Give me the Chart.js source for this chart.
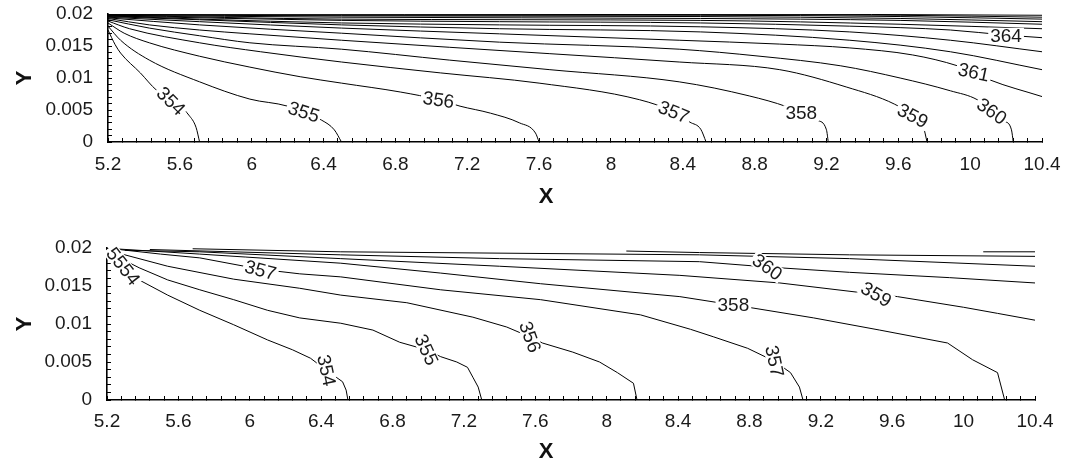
<!DOCTYPE html>
<html>
<head>
<meta charset="utf-8">
<script src="https://cdn.jsdelivr.net/npm/chart.js@4.4.0/dist/chart.umd.min.js"></script>
<style>
  html, body { margin: 0; padding: 0; background: #fff; }
  #wrap { position: relative; width: 1066px; height: 465px; }
  canvas { position: absolute; left: 0; }
</style>
</head>
<body>
<div id="wrap">
  <canvas id="topChart" width="1066" height="230" style="top:0"></canvas>
  <canvas id="bottomChart" width="1066" height="235" style="top:230px"></canvas>
</div>
<script>
// axis ticks (labelled ones), minor ticks are 5 per interval
var xTicks = [5.2, 5.6, 6, 6.4, 6.8, 7.2, 7.6, 8, 8.4, 8.8, 9.2, 9.6, 10, 10.4];
var yTicks = [0, 0.005, 0.01, 0.015, 0.02];

// top panel contour lines, [x, y]
var topLevels = [354, 355, 356, 357, 358, 359, 360, 361, 362, 363, 364, 365, 366, 367, 368, 369, 370];
var t354 = [[5.2,0.0175],[5.24,0.0152],[5.27,0.0139],[5.38,0.0108],[5.47,0.0081],[5.56,0.0066],[5.65,0.0042],[5.69,0.0023],[5.71,0]];
var t355 = [[5.2,0.0181],[5.27,0.0159],[5.43,0.0128],[5.71,0.0094],[5.99,0.0067],[6.2,0.0056],[6.39,0.0034],[6.46,0.0019],[6.5,0]];
var t356 = [[5.2,0.0186],[5.29,0.017],[5.43,0.0155],[5.71,0.0134],[5.99,0.0117],[6.27,0.0102],[6.5,0.0092],[6.83,0.0078],[7.04,0.0066],[7.16,0.0056],[7.33,0.0045],[7.49,0.003],[7.58,0.0014],[7.6,0]];
var t357 = [[5.2,0.0189],[5.32,0.0177],[5.71,0.0155],[6.05,0.0141],[6.5,0.0125],[7.05,0.0108],[7.6,0.0092],[8.16,0.0066],[8.35,0.0047],[8.44,0.0031],[8.5,0.002],[8.53,0]];
var t358 = [[5.2,0.0191],[5.43,0.0178],[5.71,0.0166],[5.99,0.0155],[6.5,0.0145],[7.1,0.0128],[7.66,0.0113],[8.38,0.0094],[8.77,0.0072],[8.98,0.0055],[9.06,0.0045],[9.15,0.0034],[9.2,0.0019],[9.21,0]];
var t359 = [[5.2,0.0193],[5.43,0.0183],[5.71,0.0175],[5.99,0.0169],[6.5,0.0159],[7.1,0.0148],[7.66,0.0138],[8.38,0.0125],[8.94,0.0113],[9.31,0.0086],[9.58,0.0059],[9.68,0.0041],[9.74,0.0023],[9.76,0]];
var t360 = [[5.2,0.0194],[5.71,0.0183],[6.5,0.017],[7.38,0.0156],[8.38,0.0145],[8.83,0.0134],[9.28,0.0119],[9.61,0.01],[9.89,0.008],[10.04,0.0066],[10.12,0.0048],[10.19,0.0033],[10.23,0.0019],[10.24,0]];
var t361 = [[5.2,0.0195],[5.71,0.0188],[6.5,0.0178],[7.38,0.0169],[8.38,0.0159],[8.94,0.0153],[9.33,0.0147],[9.68,0.0136],[9.93,0.0119],[10.02,0.0109],[10.11,0.0097],[10.4,0.0071]];
var t362 = [[5.2,0.0196],[5.71,0.0191],[6.5,0.0183],[7.38,0.0177],[8.5,0.0172],[9.33,0.0159],[9.89,0.0141],[10.4,0.0113]];
var t363 = [[5.2,0.0197],[5.71,0.0192],[6.5,0.0186],[7.38,0.0183],[8.5,0.018],[9.33,0.0172],[9.89,0.0159],[10.4,0.0141]];
var t364 = [[5.2,0.0197],[6.5,0.019],[7.38,0.0188],[8.5,0.0186],[9.33,0.0181],[9.89,0.0175],[10.2,0.0167],[10.4,0.0163]];
var t365 = [[5.2,0.0198],[6.5,0.0192],[8.5,0.019],[9.61,0.0184],[10.4,0.0177]];
var t366 = [[5.2,0.0198],[6.5,0.0195],[8.5,0.0193],[9.61,0.019],[10.4,0.0184]];
var t367 = [[5.2,0.0199],[6.5,0.0197],[8.5,0.0196],[9.61,0.0193],[10.4,0.0188]];
var t368 = [[5.2,0.0199],[6.5,0.0198],[8.5,0.0198],[9.61,0.0196],[10.4,0.0192]];
var t369 = [[5.2,0.02],[8.5,0.0199],[9.61,0.0198],[10.4,0.0195]];
var t370 = [[5.2,0.02],[8.5,0.02],[10.4,0.0198]];
var topLines = [t354, t355, t356, t357, t358, t359, t360, t361, t362, t363, t364, t365, t366, t367, t368, t369, t370];

var topLabelText  = ['354', '355', '356', '357', '358', '359', '360', '361', '364'];
var topLabelX     = [5.55, 6.29, 7.04, 8.35, 9.06, 9.68, 10.12, 10.02, 10.2];
var topLabelY     = [0.0064, 0.0047, 0.0066, 0.0047, 0.0045, 0.0041, 0.0048, 0.0109, 0.0166];
var topLabelAngle = [45, 18, 8, 22, 0, 28, 35, 12, 0];

// bottom panel contour lines, [x, y]
var bottomLevels = [354, 355, 356, 357, 358, 359, 360, 361, 362, 363];
var b354 = [[5.22,0.0191],[5.38,0.0158],[5.54,0.0138],[5.72,0.0118],[5.91,0.0099],[6.1,0.0079],[6.24,0.0066],[6.34,0.0055],[6.43,0.0039],[6.52,0.0024],[6.54,0.0013],[6.55,0]];
var b355 = [[5.22,0.0193],[5.38,0.0174],[5.54,0.0158],[5.72,0.0145],[5.91,0.0132],[6.1,0.0118],[6.28,0.0108],[6.51,0.0101],[6.69,0.0092],[6.84,0.0076],[6.99,0.0066],[7.07,0.0057],[7.16,0.005],[7.22,0.0043],[7.25,0.003],[7.28,0.0017],[7.3,0]];
var b356 = [[5.22,0.0196],[5.54,0.0176],[5.91,0.0159],[6.28,0.0147],[6.51,0.0138],[6.88,0.0128],[7.25,0.0109],[7.44,0.0096],[7.57,0.0083],[7.64,0.0075],[7.81,0.0063],[7.96,0.005],[8.06,0.0036],[8.15,0.0022],[8.17,0]];
var b357 = [[5.23,0.0199],[5.5,0.0192],[5.72,0.0187],[6.06,0.0172],[6.28,0.0166],[6.51,0.0162],[7.07,0.0145],[7.63,0.0132],[8.19,0.0112],[8.47,0.0093],[8.6,0.0083],[8.79,0.0068],[8.94,0.0051],[9.03,0.0036],[9.08,0.0017],[9.1,0]];
var b358 = [[5.24,0.0199],[5.72,0.0192],[6.51,0.018],[7.07,0.0167],[7.63,0.0153],[8.41,0.0136],[8.71,0.0125],[8.82,0.0121],[9.16,0.0108],[9.53,0.0092],[9.91,0.0075],[10.05,0.0053],[10.19,0.0036],[10.23,0]];
var b359 = [[5.3,0.0197],[5.72,0.0195],[6.51,0.0186],[7.4,0.0176],[8.41,0.0164],[8.97,0.0154],[9.4,0.0142],[9.63,0.0136],[10.0,0.0122],[10.19,0.0114],[10.4,0.0105]];
var b360 = [[5.44,0.0198],[6.51,0.0191],[7.4,0.0186],[8.52,0.0182],[8.9,0.0175],[9.36,0.0168],[9.92,0.0161],[10.4,0.0154]];
var b361 = [[5.68,0.0199],[6.51,0.0195],[8.52,0.0191],[9.36,0.0186],[10.4,0.0176]];
var b362 = [[8.11,0.0196],[8.52,0.0194],[9.36,0.0191],[10.4,0.0189]];
var b363 = [[10.11,0.0195],[10.4,0.0195]];
var bottomLines = [b354, b355, b356, b357, b358, b359, b360, b361, b362, b363];

var bottomLabelText  = ['5554', '354', '355', '356', '357', '357', '358', '359', '360'];
var bottomLabelX     = [5.29, 6.43, 6.99, 7.57, 6.06, 8.94, 8.71, 9.51, 8.9];
var bottomLabelY     = [0.0176, 0.0039, 0.0066, 0.0083, 0.0171, 0.0051, 0.0125, 0.0139, 0.0175];
var bottomLabelAngle = [52, 78, 65, 70, 15, 78, 0, 30, 35];

var FONT = '"Liberation Sans", Arial, Helvetica, sans-serif';

function subdivide(major, n) {
  var out = [];
  for (var i = 0; i < major.length - 1; i++) {
    var step = (major[i + 1] - major[i]) / n;
    for (var k = 0; k < n; k++) out.push(major[i] + k * step);
  }
  out.push(major[major.length - 1]);
  return out;
}
function isMajor(v, list) {
  return list.some(function(m){ return Math.abs(m - v) < 1e-9; });
}

// draws the level numbers on the contours (white box hides the line under them)
// and the X title, which sits left of the plot centre in the original
var contourLabels = {
  id: 'contourLabels',
  afterDatasetsDraw: function(chart, args, opts) {
    var ctx = chart.ctx, xs = chart.scales.x, ys = chart.scales.y;
    ctx.save();
    ctx.font = '19px ' + FONT;
    ctx.textAlign = 'center';
    ctx.textBaseline = 'middle';
    for (var i = 0; i < opts.text.length; i++) {
      var px = xs.getPixelForValue(opts.x[i]);
      var py = ys.getPixelForValue(opts.y[i]);
      ctx.save();
      ctx.translate(px, py);
      ctx.rotate(opts.angle[i] * Math.PI / 180);
      var w = ctx.measureText(opts.text[i]).width;
      ctx.fillStyle = '#fff';
      ctx.fillRect(-w / 2 - 2, -8, w + 4, 16);
      ctx.fillStyle = '#1a1a1a';
      ctx.fillText(opts.text[i], 0, 1);
      ctx.restore();
    }
    ctx.restore();
  },
  afterDraw: function(chart, args, opts) {
    var ctx = chart.ctx, xs = chart.scales.x;
    ctx.save();
    ctx.font = 'bold 22px ' + FONT;
    ctx.fillStyle = '#111';
    ctx.textAlign = 'center';
    ctx.textBaseline = 'middle';
    ctx.fillText('X', chart.width / 2 + 13, xs.bottom - opts.titleOffset);
    ctx.restore();
  }
};

function makeChart(id, lines, labels, box) {
  var ctx = document.getElementById(id).getContext('2d');
  var datasets = lines.map(function(line) {
    return {
      data: line.map(function(p){ return {x: p[0], y: p[1]}; }),
      showLine: true,
      pointRadius: 0,
      borderColor: '#000',
      borderWidth: 1,
      fill: false,
      cubicInterpolationMode: box.smooth ? 'monotone' : 'default',
      tension: 0
    };
  });
  labels.titleOffset = box.xTitleOffset;
  return new Chart(ctx, {
    type: 'scatter',
    data: { datasets: datasets },
    plugins: [contourLabels],
    options: {
      responsive: false,
      animation: false,
      events: [],
      layout: { padding: { top: box.top, right: box.right, left: 0, bottom: 0 } },
      plugins: {
        legend: { display: false },
        tooltip: { enabled: false },
        contourLabels: labels
      },
      scales: {
        x: {
          type: 'linear', min: 5.2, max: 10.4,
          afterBuildTicks: function(s) {
            s.ticks = subdivide(xTicks, 5).map(function(v){ return {value: v}; });
          },
          afterFit: function(s) {
            s.height = box.xHeight;
            s.paddingLeft = 0; s.paddingRight = 0;
          },
          ticks: {
            autoSkip: false, maxRotation: 0, padding: box.xPad, color: '#1a1a1a',
            font: { family: FONT, size: 19 },
            callback: function(v) { return isMajor(v, xTicks) ? String(+v.toFixed(2)) : ''; }
          },
          grid: { drawOnChartArea: false, drawTicks: true, tickLength: -4, color: '#000', lineWidth: 1 },
          border: { display: true, color: '#000', width: 1.6 },
          title: { display: false }
        },
        y: {
          type: 'linear', min: 0, max: 0.02,
          afterBuildTicks: function(s) {
            s.ticks = subdivide(yTicks, 5).map(function(v){ return {value: v}; });
          },
          afterFit: function(s) {
            s.width = box.left;
            s.paddingTop = 0; s.paddingBottom = 0;
          },
          ticks: {
            autoSkip: false, padding: 19, color: '#1a1a1a',
            font: { family: FONT, size: 19 },
            callback: function(v) { return isMajor(v, yTicks) ? String(+v.toFixed(3)) : ''; }
          },
          grid: { drawOnChartArea: false, drawTicks: true, tickLength: -4, color: '#000', lineWidth: 1 },
          border: { display: true, color: '#000', width: 1.6 },
          title: { display: true, text: 'Y', color: '#111',
                   font: { family: FONT, size: 22, weight: 'bold' },
                   padding: { top: 12, bottom: 0 } }
        }
      }
    }
  });
}

makeChart('topChart', topLines,
  { text: topLabelText, x: topLabelX, y: topLabelY, angle: topLabelAngle },
  { left: 108, right: 24, top: 14, xHeight: 88, xPad: 15, xTitleOffset: 33, smooth: true });

makeChart('bottomChart', bottomLines,
  { text: bottomLabelText, x: bottomLabelX, y: bottomLabelY, angle: bottomLabelAngle },
  { left: 107, right: 31, top: 18, xHeight: 65, xPad: 14, xTitleOffset: 13, smooth: false });
</script>
</body>
</html>
